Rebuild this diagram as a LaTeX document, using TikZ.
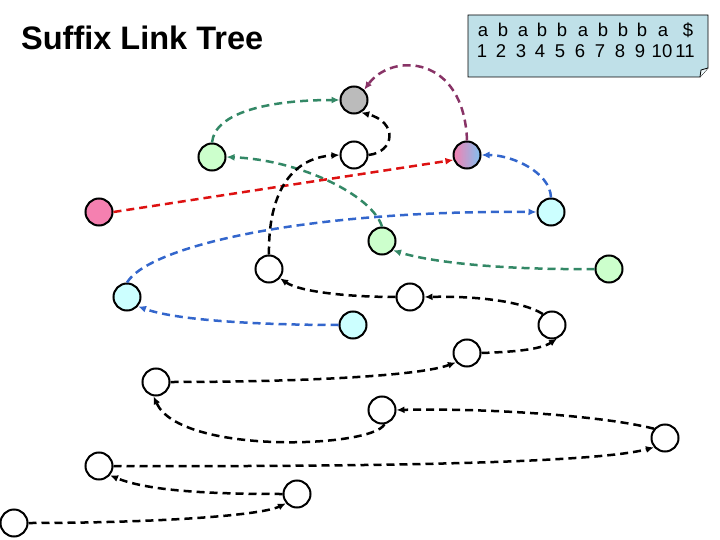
\documentclass[tikz,border=0pt]{standalone}
\usepackage{fontspec}
\setmainfont{Liberation Sans}
\usetikzlibrary{arrows.meta}
\definecolor{gfill}{HTML}{CCFFCC}
\definecolor{cfill}{HTML}{CCFFFF}
\definecolor{pfill}{HTML}{F580B0}
\definecolor{bfill}{HTML}{80C0F0}
\definecolor{greyfill}{HTML}{BBBBBB}
\definecolor{gline}{HTML}{338866}
\definecolor{bline}{HTML}{3366CC}
\definecolor{rline}{HTML}{DD1111}
\definecolor{mline}{HTML}{883366}
\definecolor{boxfill}{HTML}{BFE0E8}
\tikzset{
  vtx/.style={circle,draw=black,line width=2pt,minimum size=27pt,inner sep=0pt,fill=white},
  lnk/.style={line width=2.5pt,dash pattern=on 8pt off 5pt,-{Latex[length=8pt,width=7pt]}},
  chr/.style={inner sep=0pt,anchor=base,font=\fontsize{18.5}{18.5}\selectfont}
}
\begin{document}
\begin{tikzpicture}[x=1pt,y=-1pt]
\useasboundingbox (0,0) rectangle (720,540);
% title
\node[anchor=west,inner sep=0pt,font=\fontsize{32.5}{32.5}\selectfont\bfseries] (title) at (21,38) {Suffix Link Tree};
% string box
\draw[fill=boxfill,line width=0.8pt] (468,15) -- (708,15) -- (708,68) -- (700,77) -- (468,77) -- cycle;
\draw[line width=0.8pt,fill=white!70!boxfill] (708,68) -- (701,70) -- (700,77);
\foreach \c/\x [count=\i] in {a/483,b/503,a/523,b/542,b/562,a/583,b/603,b/623,b/642,a/663,\$/688}
  \node[chr] (s\i) at (\x,37) {\c};
\foreach \n/\x in {1/482,2/501,3/521,4/540,5/560,6/580,7/600,8/620,9/640,10/662,11/685}
  \node[chr] (d\n) at (\x,58) {\n};
% vertices
\node[vtx,fill=greyfill] (grey) at (354,100) {};
\node[vtx,fill=gfill] (g1) at (212,157) {};
\node[vtx] (w1) at (354,155) {};
\node[vtx,left color=pfill,right color=bfill] (pb) at (467,155) {};
\node[vtx,fill=pfill] (pk) at (99,212) {};
\node[vtx,fill=cfill] (c1) at (551,212) {};
\node[vtx,fill=gfill] (g2) at (382,241) {};
\node[vtx,fill=gfill] (g3) at (609,269) {};
\node[vtx] (w2) at (269,269) {};
\node[vtx,fill=cfill] (c2) at (127,297) {};
\node[vtx] (w3) at (410,297) {};
\node[vtx,fill=cfill] (c3) at (353,325) {};
\node[vtx] (w4) at (552,325) {};
\node[vtx] (w5) at (467,353) {};
\node[vtx] (w6) at (156,382) {};
\node[vtx] (w7) at (382,410) {};
\node[vtx] (w8) at (665,438) {};
\node[vtx] (w9) at (99,466) {};
\node[vtx] (w10) at (297,494) {};
\node[vtx] (w11) at (14,523) {};
% links
\draw[lnk,mline] (pb.north) .. controls (464,55) and (392,52) .. (grey.north east);
\draw[lnk,gline] (g1.north) .. controls (215,112) and (270,100) .. (grey.west);
\draw[lnk,black] (w1.east) .. controls (395,152) and (398,122) .. (grey.-60);
\draw[lnk,gline] (g2.north) .. controls (372,195) and (300,160) .. (g1.east);
\draw[lnk,rline] (pk.east) -- (pb.200);
\draw[lnk,bline] (c1.north) .. controls (550,172) and (512,155) .. (pb.east);
\draw[lnk,black] (w2.north) .. controls (268,195) and (290,158) .. (w1.west);
\draw[lnk,bline] (c2.north) .. controls (150,245) and (310,210) .. (c1.west);
\draw[lnk,gline] (g3.west) .. controls (500,270) and (430,262) .. (g2.-40);
\draw[lnk,black] (w3.west) .. controls (350,297) and (300,292) .. (w2.-40);
\draw[lnk,bline] (c3.west) .. controls (280,325) and (180,322) .. (c2.-40);
\draw[lnk,black] (w4.130) .. controls (520,300) and (470,296) .. (w3.east);
\draw[lnk,black] (w5.east) .. controls (510,352) and (540,350) .. (w4.-70);
\draw[lnk,black] (w6.east) .. controls (300,382) and (420,376) .. (w5.-140);
\draw[lnk,black] (w7.-80) .. controls (372,448) and (180,455) .. (w6.-100);
\draw[lnk,black] (w8.140) .. controls (600,415) and (480,408) .. (w7.east);
\draw[lnk,black] (w9.east) .. controls (400,467) and (600,462) .. (w8.-140);
\draw[lnk,black] (w10.west) .. controls (220,494) and (150,492) .. (w9.-40);
\draw[lnk,black] (w11.east) .. controls (150,523) and (260,516) .. (w10.-140);
\end{tikzpicture}
\end{document}
